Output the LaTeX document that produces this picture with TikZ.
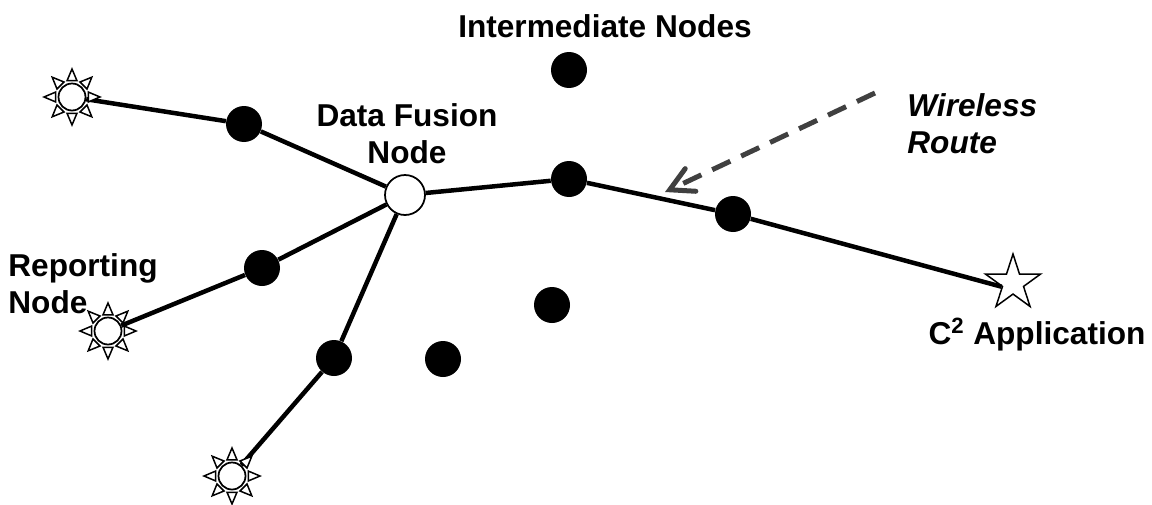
\documentclass[tikz,border=0pt]{standalone}
\usepackage{fontspec}
\setmainfont{Liberation Sans}
\usetikzlibrary{shapes.geometric,arrows.meta}

\begin{document}
\begin{tikzpicture}[x=0.02cm,y=-0.02cm]

\tikzstyle hop=[circle, inner sep=0pt, minimum size=0.72cm, fill=black]
\tikzstyle fusion=[circle, draw=black, line width=0.035cm, inner sep=0pt, minimum size=0.8cm, fill=white]
\tikzstyle sun=[circle, draw=black, line width=0.035cm, inner sep=0pt, minimum size=0.54cm, fill=white]
\tikzstyle ray=[draw=black, line width=0.03cm, line join=miter, fill=white]
\tikzstyle app=[star, star points=5, star point ratio=2.62, draw=black, line width=0.03cm, inner sep=0pt, minimum size=1.16cm, fill=white]
\tikzstyle route=[line width=0.09cm, black]
\tikzstyle label=[font=\bfseries\fontsize{18}{21}\selectfont, inner sep=0pt]
\tikzstyle pointer=[line width=0.1cm, black!75, dash pattern=on 0.4cm off 0.24cm, -{Straight Barb[length=0.46cm,width=0.5cm,line cap=round]}]

\useasboundingbox (0,0) rectangle (1152,504);

\node (f) [fusion] at (405,195) {};

\node (h1) [hop] at (244,124) {};
\node (h2) [hop] at (262,268) {};
\node (h3) [hop] at (334,358) {};
\node (h4) [hop] at (569,179) {};
\node (h5) [hop] at (733,214) {};
\node (h6) [hop] at (569,70)  {};
\node (h7) [hop] at (552,305) {};
\node (h8) [hop] at (443,359) {};

\node (s1) [sun] at (72,97)   {};
\node (s2) [sun] at (108,331) {};
\node (s3) [sun] at (232,476) {};

\node (a) [app] at (1013,283) {};

\node (li) [label] at (605,26) {Intermediate Nodes};
\node (lf) [label, align=center] at (407,134) {Data Fusion\\Node};
\node (lr) [label, align=left, anchor=west] at (8,284) {Reporting\\Node};
\node (lw) [label, align=left, anchor=west, font=\bfseries\itshape\fontsize{18}{21}\selectfont] at (907,124) {Wireless\\Route};
\node (lc) [label] at (1037,335) {C\textsuperscript{2} Application};

\coordinate (w1) at (875,93);
\coordinate (w2) at (665,192);

\foreach \i in {1,2,3}
{
\draw [route] (s\i) -- (h\i);
\draw [route] (h\i) -- (f);
\foreach \a in {0,45,...,315}
\draw [ray] ([shift={(\a:0.56cm)}]s\i.center) -- ([shift={(\a+17:0.34cm)}]s\i.center) -- ([shift={(\a-17:0.34cm)}]s\i.center) -- cycle;
}

\draw [route] (f) -- (h4);
\draw [route] (h4) -- (h5);
\draw [route] (h5) -- (a.inner point 2);

\draw [pointer] (w1) -- (w2);

\end{tikzpicture}
\end{document}
